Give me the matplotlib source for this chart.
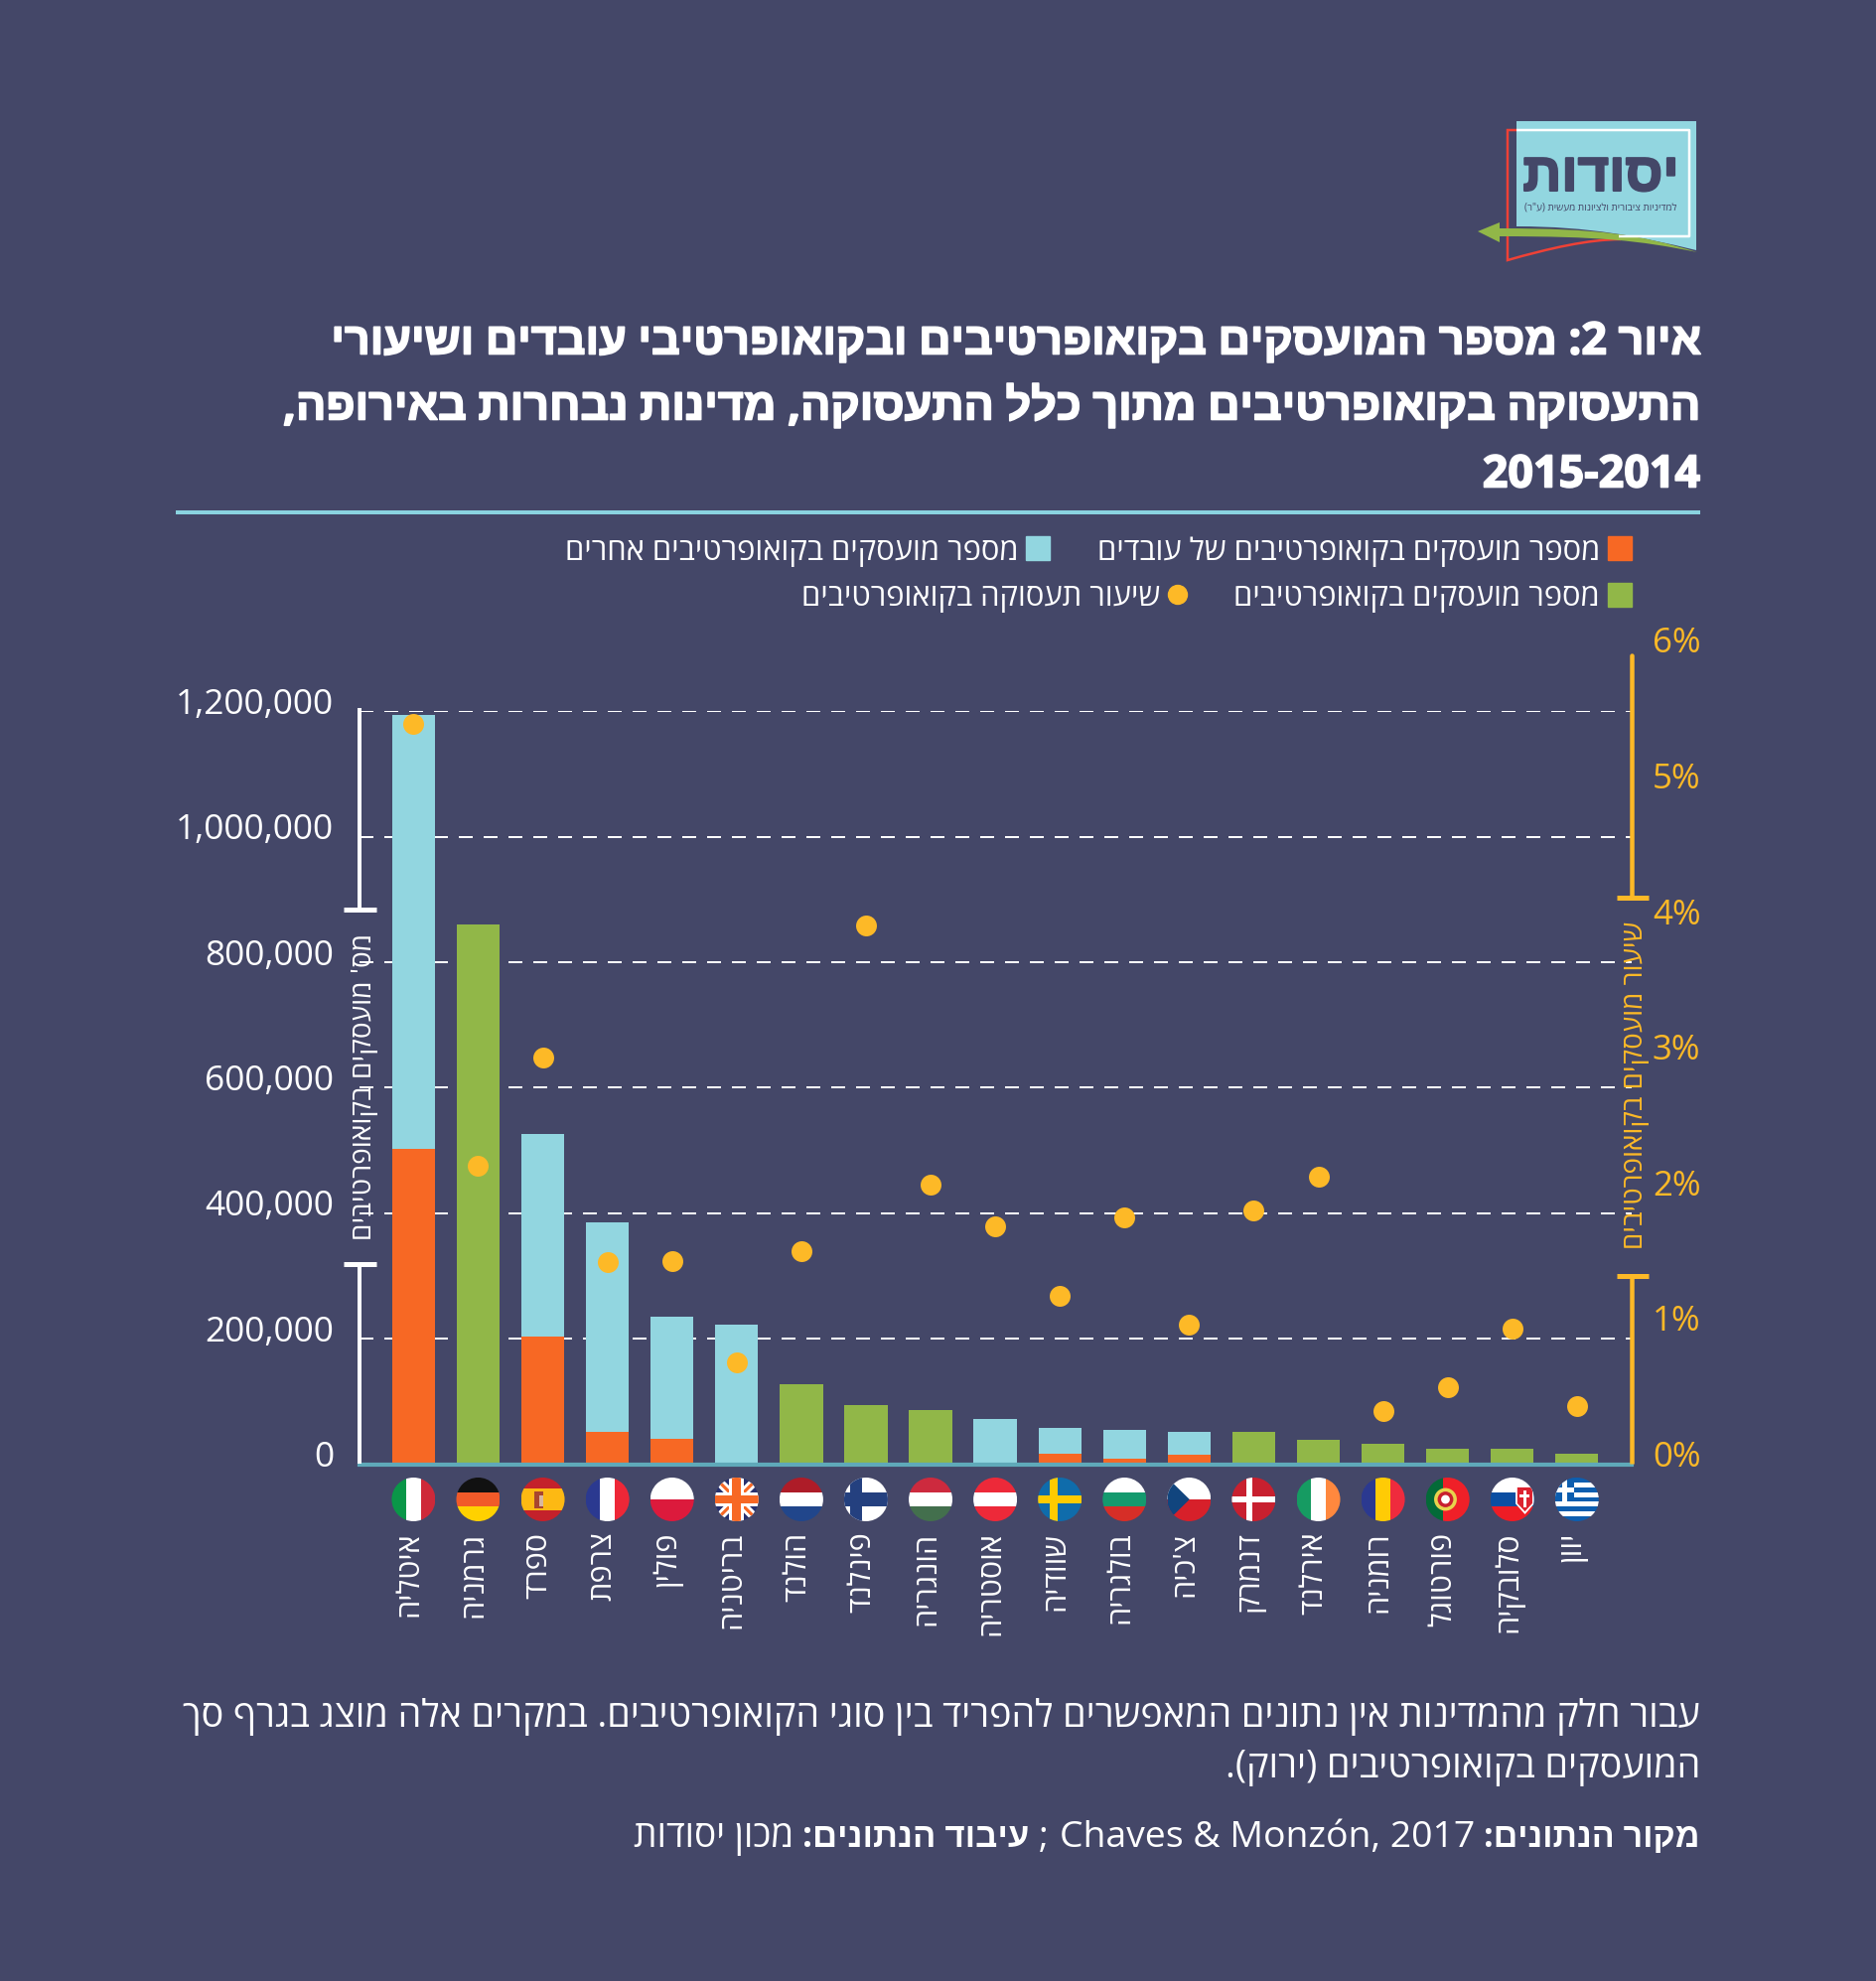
import re
import matplotlib
matplotlib.use("Agg")
import matplotlib.pyplot as plt
import matplotlib.patheffects as pe
from matplotlib.patches import Rectangle, Circle, Polygon, PathPatch
from matplotlib.path import Path
from matplotlib.transforms import Affine2D

plt.rcParams['lines.scale_dashes'] = False
HEB = ['Open Sans', 'Liberation Sans', 'DejaVu Sans']
plt.rcParams['font.family'] = HEB

countries = ["איטליה", "גרמניה", "ספרד", "צרפת", "פולין", "בריטניה", "הולנד", "פינלנד", "הונגריה", "אוסטריה",
             "שוודיה", "בולגריה", "צ'כיה", "דנמרק", "אירלנד", "רומניה", "פורטוגל", "סלובקיה", "יוון"]
worker_coops = [503000, 0, 203000, 52000, 41000, 0, 0, 0, 0, 0, 17000, 9000, 15000, 0, 0, 0, 0, 0, 0]
other_coops = [691000, 0, 324000, 334000, 194000, 223000, 0, 0, 0, 72000, 41000, 45000, 37000, 0, 0, 0, 0, 0, 0]
total_coops = [0, 860000, 0, 0, 0, 0, 128000, 94000, 86000, 0, 0, 0, 0, 52000, 39000, 33000, 25000, 25000, 16000]
share_pct = [5.46, 2.20, 3.00, 1.49, 1.50, 0.75, 1.57, 3.97, 2.06, 1.75, 1.24, 1.82, 1.03, 1.87, 2.12, 0.39, 0.57, 1.00, 0.43]
left_ticks = [200000, 400000, 600000, 800000, 1000000, 1200000]
left_labels = ["0", "200,000", "400,000", "600,000", "800,000", "1,000,000", "1,200,000"]
right_ticks = [0, 1, 2, 3, 4, 5, 6]
right_labels = ["0%", "1%", "2%", "3%", "4%", "5%", "6%"]

BG = '#444768'
ORANGE = '#F76824'
BLUE = '#92D6E0'
GREEN = '#91B748'
YELLOW = '#FDB927'
TEAL = '#5FA9B9'
W, H = 1890, 1995


def rtl(s):
    r = s[::-1].translate(str.maketrans('()', ')('))
    return re.sub(r'\d[\d\-]*\d|\d', lambda m: m.group()[::-1], r)


fig = plt.figure(figsize=(W / 100, H / 100), dpi=100, facecolor=BG)
X0, X1, Y0, Y12 = 362, 1643, 1474.5, 716.3
ax = fig.add_axes([X0 / W, 1 - Y0 / H, (X1 - X0) / W, (Y0 - Y12) / H], facecolor='none')
ax.set_xlim((X0 - 416.4) / 65.08, (X1 - 416.4) / 65.08)
ax.set_ylim(0, 1200000)
xs = list(range(len(countries)))
bw = 43.3 / 65.08
ax.bar(xs, worker_coops, bw, color=ORANGE, zorder=3)
ax.bar(xs, other_coops, bw, bottom=worker_coops, color=BLUE, zorder=3)
ax.bar(xs, total_coops, bw, color=GREEN, zorder=3)
ax.set_yticks([0] + left_ticks)
ax.set_yticklabels(left_labels)
ax.tick_params(axis='y', length=0, pad=18.5, labelsize=25.4, labelcolor='white')
ax.set_xticks(xs)
ax.set_xticklabels([rtl(c) for c in countries], rotation=90, va='top', ha='center')
ax.tick_params(axis='x', length=0, pad=49, labelsize=22, labelcolor='white')
ax.grid(axis='y', color='white', linewidth=1.44, linestyle=(0, (10.08, 7.92)), zorder=1)
ax.set_axisbelow(True)
for lbl in ax.get_yticklabels():
    lbl.set_transform(lbl.get_transform() + Affine2D().translate(0, 10.5))
for lbl in ax.get_xticklabels():
    lbl.set_transform(lbl.get_transform() + Affine2D().translate(-4, 0))
for s in ['top', 'left', 'right']:
    ax.spines[s].set_visible(False)
ax.spines['bottom'].set_color(TEAL)
ax.spines['bottom'].set_linewidth(3)
ax.spines['bottom'].set_zorder(4)

PCT = 136.6
ax2 = fig.add_axes([X0 / W, 1 - Y0 / H, (X1 - X0) / W, 6 * PCT / H], facecolor='none')
ax2.set_xlim(ax.get_xlim())
ax2.scatter(xs, share_pct, s=228, color=YELLOW, zorder=5, linewidths=0)
ax2.set_ylim(0, 6)
ax2.set_yticks(right_ticks)
ax2.set_yticklabels(right_labels)
ax2.yaxis.tick_right()
ax2.set_xticks([])
ax2.tick_params(axis='y', length=0, pad=15, labelsize=25, labelcolor=YELLOW)
for lbl in ax2.get_yticklabels():
    lbl.set_transform(lbl.get_transform() + Affine2D().translate(0, 10.5))
for s in ax2.spines.values():
    s.set_visible(False)

ov = fig.add_axes([0, 0, 1, 1], facecolor='none')
ov.set_xlim(0, W)
ov.set_ylim(H, 0)
ov.axis('off')


def line(xs_, ys_, c, lw_px, **k):
    ov.plot(xs_, ys_, color=c, lw=lw_px * 0.72, solid_capstyle=k.pop('cap', 'butt'), **k)


# brackets
line([361.7, 361.7], [713, 916], 'white', 4)
line([346, 379], [916, 916], 'white', 5)
line([361.7, 361.7], [1273, 1474], 'white', 4)
line([346, 379], [1273, 1273], 'white', 5)
line([1643.2, 1643.2], [660, 904], YELLOW, 4.5, cap='round')
line([1628, 1660], [904, 904], YELLOW, 5)
line([1643.2, 1643.2], [1285, 1474], YELLOW, 4.5)
line([1628, 1660], [1285, 1285], YELLOW, 5)
ov.text(367, 1094, rtl("מס' מועסקים בקואופרטיבים"), rotation=90, ha='center', va='center', color='white', fontsize=20.2)
ov.text(1647, 1093, rtl("שיעור מועסקים בקואופרטיבים"), rotation=90, ha='center', va='center', color=YELLOW, fontsize=20)

# title
for y, t in [(345, "איור 2: מספר המועסקים בקואופרטיבים ובקואופרטיבי עובדים ושיעורי"),
             (411, "התעסוקה בקואופרטיבים מתוך כלל התעסוקה, מדינות נבחרות באירופה,"),
             (479, "2015-2014")]:
    ov.text(1712, y, rtl(t), ha='right', va='center', color='white', fontsize=32.3, fontweight='bold',
            path_effects=[pe.withStroke(linewidth=1.2, foreground='white')])
line([177, 1712], [515.5, 515.5], '#8AD3E0', 4)

# legend
LG = 22.3
ov.add_patch(Rectangle((1619, 540), 24, 24, color=ORANGE))
ov.text(1611, 556, rtl("מספר מועסקים בקואופרטיבים של עובדים"), ha='right', va='center', color='white', fontsize=LG)
ov.add_patch(Rectangle((1033, 540), 24, 24, color=BLUE))
ov.text(1026, 556, rtl("מספר מועסקים בקואופרטיבים אחרים"), ha='right', va='center', color='white', fontsize=LG)
ov.add_patch(Rectangle((1619, 587), 24, 24, color=GREEN))
ov.text(1611, 602, rtl("מספר מועסקים בקואופרטיבים"), ha='right', va='center', color='white', fontsize=LG)
ov.add_patch(Circle((1186, 599), 9.5, color=YELLOW))
ov.text(1168, 602, rtl("שיעור תעסוקה בקואופרטיבים"), ha='right', va='center', color='white', fontsize=LG)

# footer
ov.text(1712, 1729, rtl("עבור חלק מהמדינות אין נתונים המאפשרים להפריד בין סוגי הקואופרטיבים. במקרים אלה מוצג בגרף סך"),
        ha='right', va='center', color='white', fontsize=27.2)
ov.text(1712, 1780, rtl("המועסקים בקואופרטיבים (ירוק)."), ha='right', va='center', color='white', fontsize=27.2)
for x, t, bold, fs in [(1712, rtl("מקור הנתונים:"), True, 24.5),
                       (1485, "Chaves & Monzón, 2017", False, 26.9),
                       (1056, ";", False, 26.7),
                       (1036, rtl("עיבוד הנתונים:"), True, 25),
                       (799, rtl("מכון יסודות"), False, 26.7)]:
    ov.text(x, 1851, t, ha='right', va='center', color='white', fontsize=fs,
            fontweight='bold' if bold else 'normal')

# logo
ov.add_patch(PathPatch(Path([(1527, 122), (1708, 122), (1708, 252), (1650, 238), (1600, 228), (1527, 228), (1527, 122)],
                            [Path.MOVETO, Path.LINETO, Path.LINETO, Path.CURVE4, Path.CURVE4, Path.CURVE4, Path.CLOSEPOLY]),
                       fc=BLUE, ec='none'))
line([1527, 1701, 1701, 1630], [131, 131, 238, 238], 'white', 2.5)
ov.add_patch(PathPatch(Path([(1527, 131), (1518, 131), (1518, 262), (1560, 250), (1600, 241), (1632, 241)],
                            [Path.MOVETO, Path.LINETO, Path.LINETO, Path.CURVE4, Path.CURVE4, Path.CURVE4]),
                       fc='none', ec='#EF4136', lw=1.8))
ov.add_patch(PathPatch(Path([(1488, 233), (1510, 224), (1510, 230), (1610, 230), (1650, 236), (1709, 254),
                             (1650, 242), (1610, 238), (1510, 238), (1510, 244), (1488, 233)],
                            [Path.MOVETO, Path.LINETO, Path.LINETO, Path.CURVE4, Path.CURVE4, Path.CURVE4,
                             Path.CURVE4, Path.CURVE4, Path.CURVE4, Path.LINETO, Path.CLOSEPOLY]),
                       fc=GREEN, ec='none'))
ov.text(1612, 178, rtl("יסודות"), ha='center', va='center', color=BG, fontsize=39, fontweight='bold',
        path_effects=[pe.withStroke(linewidth=1.5, foreground=BG)])
ov.text(1612, 209, rtl('למדיניות ציבורית ולציונות מעשית (ע"ר)'), ha='center', va='center', color=BG, fontsize=7.2)

# flags
R = 22
FY = 1510


def flag(i, parts):
    cx_ = 416.4 + 65.08 * i
    clip = Circle((cx_, FY), R, fc='none', ec='none')
    ov.add_patch(clip)
    for p in parts:
        if p[0] == 'r':
            _, a, b, c, d, col = p
            art = Rectangle((cx_ + a * R, FY - d * R), (c - a) * R, (d - b) * R, fc=col, ec='none')
        elif p[0] == 'p':
            _, pts, col = p
            art = Polygon([(cx_ + u * R, FY - v * R) for u, v in pts], closed=True, fc=col, ec='none')
        else:
            _, u, v, rr, col = p
            art = Circle((cx_ + u * R, FY - v * R), rr * R, fc=col, ec='none')
        ov.add_patch(art)
        art.set_clip_path(clip)


def hs(cols, w=None):
    w = w or [1] * len(cols)
    t = sum(w)
    y = 1
    out = []
    for c, k in zip(cols, w):
        h = 2 * k / t
        out.append(('r', -1, y - h, 1, y, c))
        y -= h
    return out


def vs(cols, w=None):
    w = w or [1] * len(cols)
    t = sum(w)
    x = -1
    out = []
    for c, k in zip(cols, w):
        h = 2 * k / t
        out.append(('r', x, -1, x + h, 1, c))
        x += h
    return out


def cross(x, v, h, c):
    return [('r', x - v, -1, x + v, 1, c), ('r', -1, -h, 1, h, c)]


def diag(t, c):
    return [('p', [(-1 - t, -1), (-1, -1 - t), (1 + t, 1), (1, 1 + t)], c),
            ('p', [(-1 - t, 1), (-1, 1 + t), (1 + t, -1), (1, -1 - t)], c)]


flags = [
    vs(['#0A9648', 'white', '#CE2939']),
    hs(['#111111', '#F15A29', '#FFD100']),
    hs(['#C4212B', '#FDB913', '#C4212B'], [1, 2, 1]) + [('r', -0.38, -0.4, 0.02, 0.38, '#A8452F'), ('r', -0.18, -0.3, 0.0, 0.2, '#D9B7A0')],
    vs(['#2B3990', 'white', '#EE2737']),
    hs(['white', '#DC1A3C']),
    [('r', -1, -1, 1, 1, '#26306E')] + diag(0.28, 'white') + diag(0.1, ORANGE) + cross(0, 0.34, 0.34, 'white') + cross(0, 0.2, 0.2, ORANGE),
    hs(['#AE1C28', 'white', '#21468B']),
    [('r', -1, -1, 1, 1, 'white')] + cross(-0.45, 0.26, 0.3, '#24407F'),
    hs(['#CD2A3E', 'white', '#436F4D']),
    hs(['#ED2939', 'white', '#ED2939']),
    [('r', -1, -1, 1, 1, '#0F6CAB')] + cross(-0.28, 0.2, 0.2, '#FECB00'),
    hs(['white', '#149A6E', '#D62E27']),
    hs(['white', '#D7202A']) + [('p', [(-1, 1), (0.02, 0), (-1, -1)], '#11457E')],
    [('r', -1, -1, 1, 1, '#C8202F')] + cross(-0.2, 0.14, 0.14, 'white'),
    vs(['#169B62', 'white', '#FF883E']),
    vs(['#2B3990', '#FFCB05', '#EF2B3D']),
    vs(['#046A38', '#EF2028'], [4, 6]) + [('c', -0.1, 0, 0.52, '#E8D44D'), ('c', -0.1, 0, 0.36, '#C8202F'), ('c', -0.1, 0, 0.2, 'white')],
    hs(['white', '#0B4EA2', '#EE1C25']) + [('p', [(0.15, 0.62), (1.0, 0.62), (1.0, -0.2), (0.58, -0.68), (0.15, -0.2)], 'white'),
                                           ('p', [(0.23, 0.55), (0.92, 0.55), (0.92, -0.18), (0.58, -0.55), (0.23, -0.18)], '#DD2230'),
                                           ('r', 0.52, -0.35, 0.64, 0.42, 'white'), ('r', 0.35, 0.1, 0.8, 0.22, 'white')],
    hs(['#0D5EAF', 'white'] * 4 + ['#0D5EAF']) + [('r', -1, -0.11, -0.11, 1, '#0D5EAF')] + [('r', -0.68, -0.11, -0.44, 1, 'white'), ('r', -1, 0.33, -0.11, 0.55, 'white')],
]
for i, f in enumerate(flags):
    flag(i, f)

fig.savefig('out.png', dpi=100, facecolor=BG)
